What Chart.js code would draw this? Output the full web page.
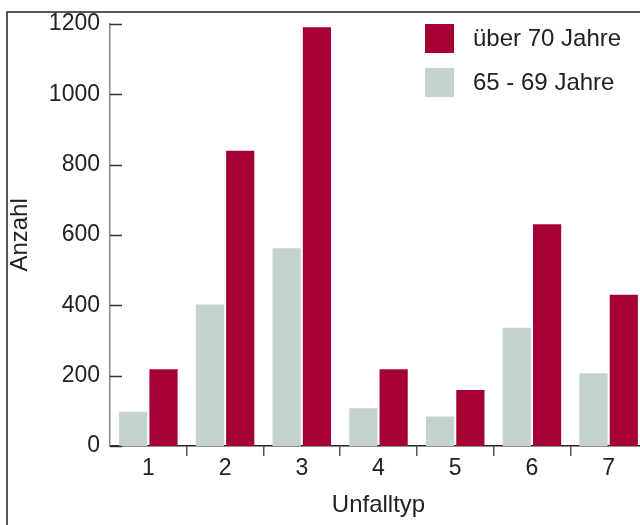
<!DOCTYPE html>
<html>
<head>
<meta charset="utf-8">
<script src="https://cdn.jsdelivr.net/npm/chart.js@4.4.0/dist/chart.umd.min.js"></script>
<style>
    html, body { margin: 0; padding: 0; overflow: hidden; background: #fff; }
    canvas { display: block; }
</style>
</head>
<body>
<canvas id="chart" width="660" height="525"></canvas>
<script>
// Data
const categories = ['1', '2', '3', '4', '5', '6', '7'];
const age65to69 = [97, 402, 562, 107, 84, 336, 207];
const over70 = [218, 839, 1190, 218, 159, 630, 430];
const yTickValues = [0, 200, 400, 600, 800, 1000, 1200];

const RED = '#a50034';
const GRAY = '#c4d3ce';
const TEXT = '#222';
const FONT = "'Liberation Sans', Arial, sans-serif";

// Frame, inward y ticks and the legend box
const decorations = {
    id: 'decorations',
    beforeDraw(chart) {
        const ctx = chart.ctx;
        ctx.save();
        ctx.fillStyle = '#fff';
        ctx.fillRect(0, 0, chart.width, chart.height);
        ctx.strokeStyle = '#222';
        ctx.lineWidth = 1.5;
        ctx.beginPath();
        ctx.moveTo(7, chart.height);
        ctx.lineTo(7, 12);
        ctx.lineTo(chart.width, 12);
        ctx.stroke();
        ctx.restore();
    },
    afterDraw(chart) {
        const ctx = chart.ctx;
        const yScale = chart.scales.y;
        ctx.save();
        // ticks pointing into the plot
        ctx.strokeStyle = '#333';
        ctx.lineWidth = 1.5;
        yTickValues.forEach(v => {
            const py = Math.round(yScale.getPixelForValue(v)) + 0.5;
            ctx.beginPath();
            ctx.moveTo(yScale.right, py);
            ctx.lineTo(yScale.right + 12, py);
            ctx.stroke();
        });
        // legend, top right, reversed order
        const items = chart.data.datasets.slice().reverse();
        ctx.font = '24px ' + FONT;
        ctx.textBaseline = 'middle';
        ctx.textAlign = 'left';
        items.forEach((ds, i) => {
            const bx = 425, by = 24 + i * 44;
            ctx.fillStyle = ds.backgroundColor;
            ctx.fillRect(bx, by, 29, 29);
            ctx.fillStyle = TEXT;
            ctx.fillText(ds.label, 473, by + 15);
        });
        ctx.restore();
    }
};

new Chart(document.getElementById('chart'), {
    type: 'bar',
    data: {
        labels: categories,
        datasets: [
            { label: '65 - 69 Jahre', data: age65to69, backgroundColor: GRAY },
            { label: 'über 70 Jahre', data: over70, backgroundColor: RED }
        ]
    },
    options: {
        responsive: false,
        animation: false,
        events: [],
        categoryPercentage: 0.79,
        barPercentage: 0.93,
        layout: { padding: { left: 6, top: 23, right: 13, bottom: 0 } },
        plugins: {
            legend: { display: false },
            tooltip: { enabled: false }
        },
        scales: {
            x: {
                grid: {
                    offset: true,
                    drawOnChartArea: false,
                    drawTicks: true,
                    tickLength: 10,
                    lineWidth: 1.5,
                    color: c => c.index === 0 ? 'rgba(0,0,0,0)' : '#555'
                },
                border: { display: true, color: '#222', width: 1.5 },
                ticks: { color: TEXT, font: { family: FONT, size: 23 }, padding: -1, maxRotation: 0 },
                title: {
                    display: true, text: 'Unfalltyp', color: TEXT,
                    font: { family: FONT, size: 24 }, padding: { top: 0, bottom: 5 }
                },
                afterFit: s => { s.height = 79; }
            },
            y: {
                min: 0,
                max: 1200,
                grid: { display: false, drawTicks: false },
                border: { display: true, color: '#888', width: 1.5 },
                ticks: {
                    stepSize: 200, color: TEXT, font: { family: FONT, size: 23 }, padding: 10,
                    callback: v => String(v)
                },
                title: {
                    display: true, text: 'Anzahl', color: TEXT,
                    font: { family: FONT, size: 24 }, padding: { top: 0, bottom: 0 }
                },
                afterFit: s => { s.width = 104; }
            }
        }
    },
    plugins: [decorations]
});
</script>
</body>
</html>
